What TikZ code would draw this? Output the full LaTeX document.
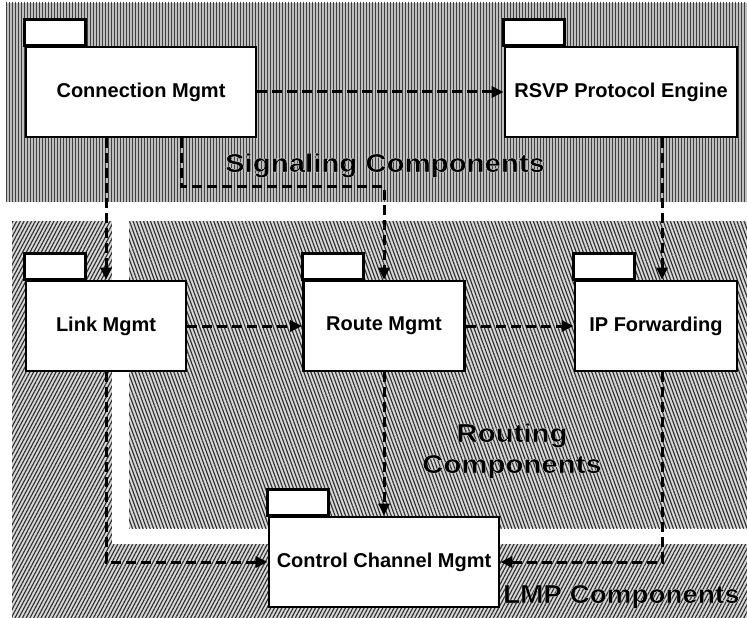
\documentclass[tikz,border=0pt]{standalone}
\usepackage{fontspec}
\setmainfont{Liberation Sans}
\newfontfamily\widesans[FakeStretch=1.13]{Liberation Sans}
\newfontfamily\lesswidesans[FakeStretch=1.07]{Liberation Sans}
\usetikzlibrary{arrows.meta,patterns.meta,calc}
\newcommand{\haloed}[1]{\special{pdf:literal direct 2 Tr 1 1 1 RG 0.25 w}#1\special{pdf:literal direct 0 Tr 0 0 0 RG}}
\begin{document}
\begin{tikzpicture}[x=1bp,y=-1bp,
  pkg/.style={draw=black,fill=white,line width=2.8bp,minimum width=#1,minimum height=90bp,
    inner sep=0pt,font=\fontsize{20bp}{24bp}\selectfont\bfseries},
  pkg/.default=160bp,
  tabbox/.style={draw=black,fill=white,line width=2.8bp},
  conn/.style={draw=black,line width=3bp,dash pattern=on 10bp off 5bp,
    -{Triangle[length=12bp,width=11bp]}},
  biglabel/.style={font=\bfseries\widesans\fontsize{26bp}{31bp}\selectfont\bfseries,inner sep=0pt,align=center},
  lmplabel/.style={font=\bfseries\lesswidesans\fontsize{26bp}{31bp}\selectfont\bfseries,inner sep=0pt},
  sigbg/.style={fill=black!25,postaction={pattern={Lines[angle=90,distance=3bp,line width=1bp]},pattern color=black!75}},
  routbg/.style={fill=black!15,postaction={pattern={Lines[angle=110,distance=3.3bp,line width=1.15bp]},pattern color=black!82}},
  lmpbg/.style={fill=black!15,postaction={pattern={Lines[angle=62,distance=3.3bp,line width=1.15bp]},pattern color=black!82}}
]
\useasboundingbox (0,0) rectangle (747,618);
\fill[white] (0,0) rectangle (747,618);
% backgrounds
\path[sigbg] (6,3) rectangle (747,202);
\path[lmpbg] (12,221) rectangle (747,618);
\fill[white] (112,221) rectangle (747,544);
\path[routbg] (129,221) rectangle (747,528);
% region labels
\node[biglabel,anchor=base] (siglbl) at (385,172) {\haloed{Signaling Components}};
\node[biglabel,anchor=base] (routlbl) at (512,473) {\haloed{Routing}\\\haloed{Components}};
\node[lmplabel,anchor=base west] (lmplbl) at (503,603) {\haloed{LMP Components}};
% packages
\node[pkg=230bp] (cm) at (141,92) {Connection Mgmt};
\node[pkg=232bp] (rsvp) at (621,92) {RSVP Protocol Engine};
\node[pkg] (link) at (106,326) {Link Mgmt};
\node[pkg=161bp] (route) at (384,326) {Route Mgmt};
\node[pkg=162bp] (ip) at (656,326) {IP Forwarding};
\node[pkg=230bp] (ccm) at (384,562) {Control Channel Mgmt};
\foreach \n in {cm,rsvp,link,route,ip,ccm}
  \draw[tabbox] (\n.north west) rectangle ++(61,-26);
% helper coordinates
\coordinate (bend1) at (181,187);
\coordinate (ipin) at ([xshift=6bp]ip.north);
\coordinate (ipout) at ([xshift=6bp]ip.south);
% connectors
\draw[conn] (cm.east) -- (rsvp.west);
\draw[conn] (cm.south -| link.north) -- (link.north);
\draw[conn] (cm.south -| bend1) -- (bend1) -| (route.north);
\draw[conn] (rsvp.south -| ipin) -- (ipin);
\draw[conn] (link.east) -- (route.west);
\draw[conn] (route.east) -- (ip.west);
\draw[conn] (route.south) -- (ccm.north);
\draw[conn] (link.south) |- (ccm.west);
\draw[conn] (ipout) |- (ccm.east);
\end{tikzpicture}
\end{document}
